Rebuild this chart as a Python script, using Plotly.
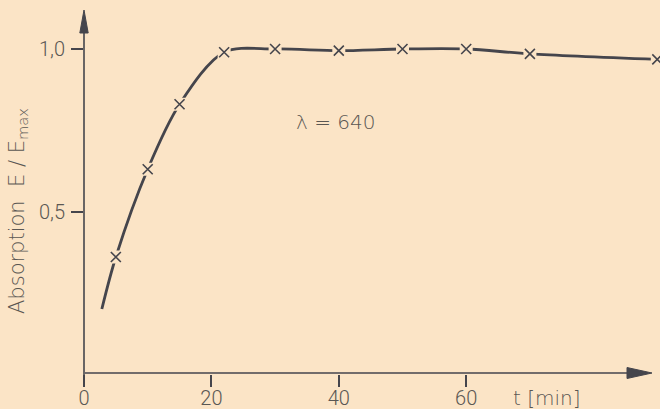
import plotly.graph_objects as go

# ---- data ----
marker_t = [5, 10, 15, 22, 30, 40, 50, 60, 70, 90]
marker_y = [0.36, 0.63, 0.83, 0.99, 1.0, 0.995, 1.0, 1.0, 0.985, 0.968]
curve_t = [2.8, 5, 10, 15, 22, 30, 40, 50, 60, 70, 90]
curve_y = [0.20, 0.36, 0.63, 0.83, 0.99, 1.0, 0.995, 1.0, 1.0, 0.985, 0.968]
x_tickvals = [0, 20, 40, 60]
x_ticktext = ["0", "20", "40", "60"]
y_tickvals = [0.5, 1.0]
y_ticktext = ["0,5", "1,0"]

BG = "#FBE4C6"
INK = "#45454C"
TXT = "#5A5753"
FONT = "Roboto"
FONT2 = "DejaVu Sans"

W, H = 660, 409
ML, MR, MT, MB = 84, 0, 0, 35
PW, PH = W - ML - MR, H - MT - MB
XMAX = PW / 6.37
YMAX = PH / 325.0

def px(dx):
    return dx / PW

def py(dy):
    return dy / PH

fig = go.Figure()

fig.add_trace(go.Scatter(
    x=curve_t, y=curve_y, mode="lines",
    line=dict(color=INK, width=2.8, shape="spline", smoothing=0.9),
    cliponaxis=False, hoverinfo="skip"))
# gaps in the line around each cross
fig.add_trace(go.Scatter(
    x=marker_t, y=marker_y, mode="markers",
    marker=dict(symbol="square", size=13, color=BG, line=dict(width=0)),
    cliponaxis=False, hoverinfo="skip"))
fig.add_trace(go.Scatter(
    x=marker_t, y=marker_y, mode="markers",
    marker=dict(symbol="x-thin", size=10, color=INK, line=dict(width=1.6, color=INK)),
    cliponaxis=False))

shapes = [
    # y axis line
    dict(type="line", xref="paper", yref="paper", x0=0, x1=0,
         y0=-py(9), y1=1 - py(30), line=dict(color=INK, width=1.6)),
    # y arrow head
    dict(type="path", xref="paper", yref="paper",
         path=f"M {-px(4.2)} {1 - py(33)} L {px(4.2)} {1 - py(33)} L 0 {1 - py(10)} Z",
         fillcolor=INK, line=dict(color=INK, width=1)),
    # x axis line
    dict(type="line", xref="paper", yref="paper", x0=px(1), x1=px(630 - ML),
         y0=py(1), y1=py(1), line=dict(color=INK, width=1.6)),
    # x arrow head
    dict(type="path", xref="paper", yref="paper",
         path=f"M {px(627 - ML)} {py(1 + 5.5)} L {px(627 - ML)} {py(1 - 5.5)} L {px(652 - ML)} {py(1)} Z",
         fillcolor=INK, line=dict(color=INK, width=1)),
]

annotations = [
    dict(text="λ = 640", x=39.5, y=0.775, xref="x", yref="y", showarrow=False,
         font=dict(family=FONT2, size=20, color=TXT, weight=300)),
    dict(text="t [min]", x=72.7, y=0, xref="x", yref="paper", yanchor="middle",
         yshift=-24, showarrow=False,
         font=dict(family=FONT2, size=20, color=TXT, weight=300)),
    dict(text="Absorption  E / E<sub>max</sub>", x=0, y=py(374 - 211), xref="paper", yref="paper",
         xanchor="center", yanchor="middle",
         xshift=-66, textangle=-90, showarrow=False,
         font=dict(family=FONT2, size=21, color=TXT, weight=300)),
]

fig.update_layout(
    width=W, height=H,
    margin=dict(l=ML, r=MR, t=MT, b=MB),
    paper_bgcolor=BG, plot_bgcolor=BG,
    showlegend=False,
    shapes=shapes, annotations=annotations,
    xaxis=dict(range=[0, XMAX], showgrid=False, zeroline=False, showline=False,
               automargin=False,
               ticks="outside", ticklen=12, tickwidth=1.5, tickcolor=INK,
               tickvals=x_tickvals, ticktext=x_ticktext, ticklabelstandoff=-6,
               tickfont=dict(family=FONT, size=20, color=TXT, weight=300)),
    yaxis=dict(range=[0, YMAX], showgrid=False, zeroline=False, showline=False,
               automargin=False,
               ticks="outside", ticklen=12, tickwidth=1.5, tickcolor=INK,
               tickvals=y_tickvals, ticktext=y_ticktext, ticklabelstandoff=2,
               tickfont=dict(family=FONT, size=20, color=TXT, weight=300)),
)

fig.write_html(
    "out.html",
    config={"displayModeBar": False},
    post_script="document.body.style.margin='0';document.body.style.overflow='hidden';"
                "document.body.style.background='" + BG + "';",
)
